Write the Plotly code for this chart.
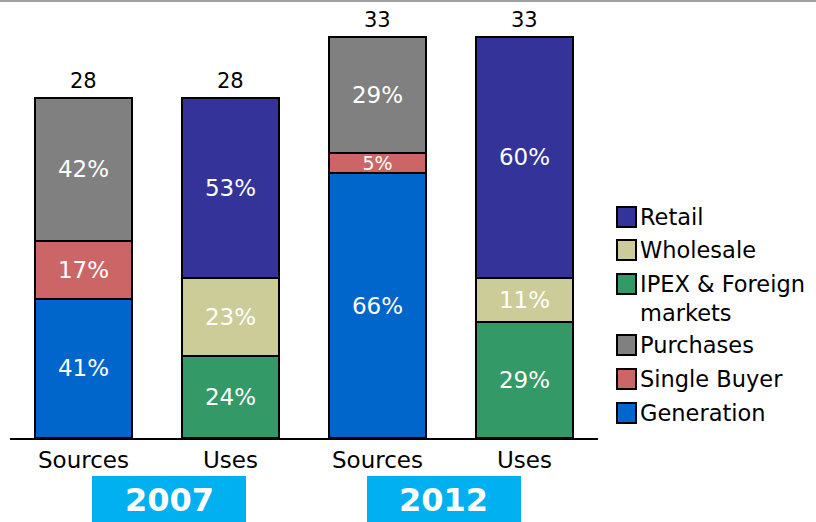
import plotly.graph_objects as go

# ---- data -------------------------------------------------------------
bar_labels = ["Sources", "Uses", "Sources", "Uses"]
years = ["2007", "2012"]
totals = [28, 28, 33, 33]

# share (%) of each bar's total; None where the series is not in that bar
generation = [41, None, 66, None]
single_buyer = [17, None, 5, None]
purchases = [42, None, 29, None]
ipex_foreign = [None, 24, None, 29]
wholesale = [None, 23, None, 11]
retail = [None, 53, None, 60]

# ---- styling ------------------------------------------------------------
W, H = 816, 522
BASE_FONT = "DejaVu Sans, Verdana, sans-serif"

series = [  # stacking order, bottom to top
    ("Generation", generation, "#0066CC"),
    ("IPEX & Foreign markets", ipex_foreign, "#339966"),
    ("Single Buyer", single_buyer, "#CC6666"),
    ("Wholesale", wholesale, "#CCCC99"),
    ("Purchases", purchases, "#808080"),
    ("Retail", retail, "#333399"),
]

x_pos = list(range(len(bar_labels)))

fig = go.Figure()
for name, shares, color in series:
    heights = [t * s / 100 if s is not None else None for t, s in zip(totals, shares)]
    texts = [f"{s}%" if s is not None else "" for s in shares]
    # very thin segments get a slightly smaller label
    sizes = [19 if (h is not None and h < 2.5) else 23 for h in heights]
    fig.add_trace(go.Bar(
        name=name,
        x=x_pos,
        y=heights,
        width=0.66,
        marker=dict(color=color, line=dict(color="black", width=2)),
        text=texts,
        textposition="inside",
        insidetextanchor="middle",
        constraintext="none",
        textfont=dict(family=BASE_FONT, size=sizes, color="white"),
        hoverinfo="skip",
        showlegend=False,
    ))

# totals above each bar
for x, t in zip(x_pos, totals):
    fig.add_annotation(
        x=x, y=t, xref="x", yref="y",
        text=str(t), showarrow=False,
        yanchor="bottom", yshift=3,
        font=dict(family=BASE_FONT, size=21, color="black"),
    )

# hand-drawn legend, top to bottom
legend_rows = [
    ("Retail", "#333399", 217),
    ("Wholesale", "#CCCC99", 250),
    ("IPEX & Foreign<br>markets", "#339966", 284),
    ("Purchases", "#808080", 345),
    ("Single Buyer", "#CC6666", 379),
    ("Generation", "#0066CC", 413),
]
for label, color, yc in legend_rows:
    fig.add_shape(
        type="rect", xref="paper", yref="paper",
        x0=617 / W, x1=636 / W,
        y0=(H - (yc + 10)) / H, y1=(H - (yc - 10)) / H,
        fillcolor=color, line=dict(color="black", width=2),
    )
    two_lines = "<br>" in label
    fig.add_annotation(
        x=638 / W, y=(H - yc) / H, xref="paper", yref="paper",
        text=label, showarrow=False, align="left",
        xanchor="left", yanchor="top" if two_lines else "middle",
        yshift=15 if two_lines else 0,
        font=dict(family=BASE_FONT, size=22.5, color="black"),
    )

# year boxes under each pair of bars
year_boxes = [(92, 246), (367, 521)]
for (x0, x1), yr in zip(year_boxes, years):
    fig.add_shape(
        type="rect", xref="paper", yref="paper",
        x0=x0 / W, x1=x1 / W, y0=0, y1=(H - 476) / H,
        fillcolor="#00B0F0", line=dict(width=0),
    )
    fig.add_annotation(
        x=(x0 + x1) / 2 / W, y=(H - 500) / H, xref="paper", yref="paper",
        text=f"<b>{yr}</b>", showarrow=False,
        xanchor="center", yanchor="middle",
        font=dict(family=BASE_FONT, size=32, color="white"),
    )

# thin grey rule along the top edge
fig.add_shape(
    type="line", xref="paper", yref="paper",
    x0=0, x1=1, y0=(H - 1) / H, y1=(H - 1) / H,
    line=dict(color="#A0A0A0", width=2),
)

fig.update_layout(
    width=W, height=H,
    margin=dict(l=0, r=0, t=0, b=0),
    paper_bgcolor="white", plot_bgcolor="white",
    barmode="stack",
    showlegend=False,
    xaxis=dict(
        domain=[10 / W, 598 / W],
        range=[-0.5, len(bar_labels) - 0.5],
        tickvals=x_pos, ticktext=bar_labels,
        tickfont=dict(family=BASE_FONT, size=23, color="black"),
        showline=True, linecolor="black", linewidth=2,
        ticks="", showgrid=False, zeroline=False,
        fixedrange=True,
    ),
    yaxis=dict(
        domain=[(H - 438) / H, 1],
        range=[0, 438 / 12.15],
        visible=False, showgrid=False, zeroline=False,
        fixedrange=True,
    ),
)

fig.write_html("out.html")
